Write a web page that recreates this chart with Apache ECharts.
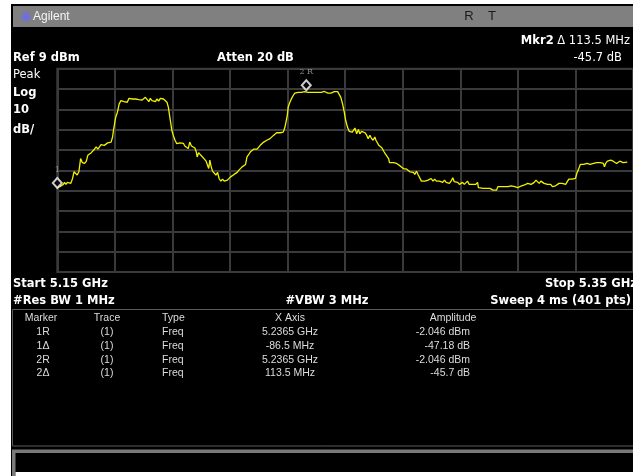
<!DOCTYPE html>
<html>
<head>
<meta charset="utf-8">
<script src="https://cdn.jsdelivr.net/npm/echarts@6/dist/echarts.min.js"></script>
<style>
  html, body { margin: 0; padding: 0; background: #fff; overflow: hidden; }
  #chart { width: 633px; height: 476px; }
</style>
</head>
<body>
<div id="chart"></div>
<script>
// analyzer settings
const START_MHZ = 5150;
const STOP_MHZ = 5350;
const REF_DBM = 9;

// trace 1 (MHz, dBm)
const freqMHz = [
  5150.0, 5150.9, 5151.5, 5152.1, 5152.5, 5153.0, 5153.5, 5154.1, 5154.7, 5155.3,
  5155.8, 5156.4, 5156.9, 5157.5, 5158.1, 5158.7, 5159.5, 5160.1, 5160.6, 5161.2,
  5161.8, 5162.3, 5162.9, 5163.5, 5164.1, 5164.6, 5165.2, 5165.8, 5166.3, 5166.9,
  5167.5, 5168.1, 5168.7, 5169.2, 5169.5, 5170.0, 5170.3, 5170.9, 5171.5, 5172.1,
  5172.6, 5173.2, 5173.8, 5174.3, 5174.9, 5175.5, 5176.1, 5176.6, 5177.2, 5177.8,
  5178.3, 5178.9, 5179.5, 5180.1, 5180.6, 5181.2, 5181.8, 5182.3, 5182.9, 5183.5,
  5184.1, 5184.6, 5185.2, 5185.8, 5186.3, 5186.9, 5187.5, 5188.1, 5188.6, 5189.0,
  5189.4, 5189.8, 5190.3, 5190.9, 5191.5, 5192.1, 5192.6, 5193.2, 5193.8, 5194.3,
  5194.9, 5195.5, 5196.0, 5196.6, 5197.2, 5197.8, 5198.3, 5198.6, 5199.1, 5199.9,
  5200.5, 5201.1, 5201.7, 5202.2, 5202.6, 5203.0, 5203.4, 5203.9, 5204.5, 5205.1,
  5205.7, 5206.2, 5206.8, 5207.4, 5208.0, 5208.5, 5209.1, 5209.7, 5210.2, 5210.8,
  5211.4, 5211.9, 5212.5, 5213.1, 5213.7, 5214.2, 5214.8, 5215.4, 5215.9, 5216.5,
  5217.1, 5217.7, 5218.2, 5218.8, 5219.4, 5219.9, 5220.5, 5221.1, 5221.7, 5222.2,
  5222.8, 5223.4, 5223.9, 5224.5, 5225.1, 5225.7, 5226.2, 5226.8, 5227.4, 5228.0,
  5228.5, 5229.1, 5229.4, 5229.9, 5230.2, 5230.8, 5231.4, 5231.9, 5232.5, 5233.1,
  5233.7, 5234.2, 5234.8, 5235.4, 5235.9, 5236.5, 5237.1, 5237.7, 5238.2, 5238.8,
  5239.4, 5240.0, 5240.5, 5241.1, 5241.7, 5242.2, 5242.8, 5243.4, 5244.0, 5244.5,
  5245.1, 5245.7, 5246.2, 5246.8, 5247.4, 5247.9, 5248.5, 5249.1, 5249.7, 5250.2,
  5250.8, 5251.4, 5252.0, 5252.5, 5253.1, 5253.4, 5254.0, 5254.6, 5255.1, 5255.7,
  5256.3, 5256.9, 5257.4, 5258.0, 5258.6, 5259.1, 5259.7, 5260.3, 5260.7, 5261.3,
  5261.7, 5262.2, 5262.8, 5263.4, 5263.9, 5264.5, 5265.1, 5265.4, 5266.0, 5266.8,
  5267.4, 5267.9, 5268.5, 5269.1, 5269.7, 5270.2, 5270.8, 5271.4, 5271.9, 5272.5,
  5273.1, 5273.7, 5274.2, 5274.8, 5275.4, 5275.9, 5276.5, 5277.1, 5277.7, 5278.2,
  5278.8, 5279.4, 5279.9, 5280.5, 5281.1, 5281.7, 5282.2, 5282.8, 5283.4, 5283.9,
  5284.5, 5285.1, 5285.7, 5286.2, 5286.8, 5287.4, 5287.9, 5288.5, 5289.1, 5289.7,
  5290.2, 5290.8, 5291.4, 5292.0, 5292.5, 5293.1, 5293.7, 5294.2, 5294.8, 5295.4,
  5296.0, 5296.3, 5296.9, 5298.0, 5299.1, 5300.3, 5300.9, 5301.4, 5302.0, 5302.6,
  5303.1, 5303.7, 5304.3, 5304.9, 5305.4, 5306.0, 5306.6, 5307.1, 5307.7, 5308.3,
  5308.9, 5309.4, 5310.0, 5310.6, 5311.1, 5311.7, 5312.3, 5312.9, 5313.4, 5314.0,
  5314.6, 5315.1, 5315.7, 5316.3, 5316.9, 5317.4, 5318.0, 5318.6, 5319.1, 5319.7,
  5320.3, 5320.9, 5321.4, 5322.0, 5322.6, 5323.1, 5323.7, 5324.3, 5324.9, 5325.4,
  5326.0, 5326.6, 5327.1, 5327.7, 5328.3, 5328.9, 5329.4, 5330.0, 5330.6, 5331.1,
  5331.7, 5332.3, 5332.9, 5333.4, 5334.0, 5334.6, 5335.1, 5335.7, 5336.3, 5336.9,
  5337.4, 5338.0, 5338.6, 5339.1, 5339.7, 5340.1, 5340.5, 5341.1, 5341.6, 5342.3,
  5343.1, 5343.7, 5344.3, 5344.9, 5345.4, 5346.0, 5346.6, 5347.1, 5348.0
];
const levelDbm = [
  -49.2, -49.0, -48.2, -47.9, -46.9, -47.9, -46.9, -47.4, -47.4, -45.0,
  -41.7, -41.4, -43.3, -41.7, -35.2, -37.2, -37.6, -36.5, -33.6, -34.4,
  -32.3, -32.9, -30.6, -29.5, -30.6, -31.1, -28.4, -27.9, -28.7, -29.0,
  -27.5, -28.2, -27.1, -24.6, -21.4, -17.3, -14.8, -12.4, -8.3, -6.7,
  -6.2, -7.2, -7.5, -7.5, -5.6, -5.4, -5.9, -5.6, -5.9, -5.6,
  -6.2, -5.9, -6.4, -6.7, -5.1, -5.9, -7.2, -5.6, -6.7, -6.2,
  -7.2, -5.9, -6.9, -5.6, -5.6, -5.9, -6.2, -7.5, -10.0, -14.0,
  -14.8, -21.4, -23.8, -26.2, -27.9, -27.9, -27.5, -27.5, -27.7, -29.0,
  -28.4, -30.3, -27.1, -29.0, -28.7, -30.0, -32.0, -34.4, -32.3, -33.6,
  -34.4, -35.5, -36.5, -37.2, -40.1, -36.0, -38.8, -41.4, -41.7, -43.3,
  -42.0, -45.0, -46.3, -45.3, -46.3, -46.6, -45.8, -45.3, -44.2, -44.6,
  -43.0, -43.7, -42.0, -40.9, -41.4, -39.3, -38.8, -38.1, -34.4, -33.2,
  -31.9, -31.6, -30.6, -31.1, -30.6, -30.0, -28.7, -27.9, -27.1, -26.7,
  -26.2, -26.2, -25.4, -24.6, -23.8, -23.5, -22.5, -22.2, -22.5, -23.0,
  -22.2, -19.7, -18.9, -14.0, -10.0, -7.5, -5.6, -4.3, -3.0, -2.6,
  -2.6, -2.3, -2.6, -2.2, -2.3, -2.05, -2.6, -2.2, -2.6, -3.0,
  -2.6, -2.3, -2.6, -3.0, -2.6, -2.6, -2.2, -3.0, -3.0, -2.6,
  -3.0, -2.6, -2.3, -2.2, -2.3, -2.6, -5.1, -8.3, -12.4, -16.5,
  -19.7, -21.8, -21.8, -22.2, -21.8, -20.2, -23.0, -20.9, -23.0, -21.8,
  -20.9, -22.5, -23.5, -25.4, -23.8, -25.1, -26.2, -24.6, -26.2, -27.1,
  -28.7, -27.9, -30.0, -31.6, -32.8, -33.6, -35.2, -37.2, -36.5, -37.2,
  -36.5, -37.6, -38.5, -38.8, -39.3, -40.1, -39.8, -40.4, -40.9, -41.7,
  -42.5, -42.0, -43.0, -41.4, -43.3, -44.2, -46.3, -46.9, -46.3, -46.3,
  -45.8, -45.3, -45.0, -46.3, -45.3, -46.3, -46.9, -46.3, -45.8, -46.9,
  -45.8, -46.9, -46.6, -47.4, -46.3, -44.6, -46.6, -47.4, -46.9, -47.9,
  -47.4, -46.9, -47.9, -47.4, -46.3, -47.9, -47.6, -47.9, -47.4, -47.9,
  -46.9, -49.5, -50.2, -49.9, -49.9, -49.9, -50.2, -50.7, -50.7, -50.7,
  -49.0, -48.6, -49.0, -48.6, -49.0, -48.6, -49.0, -49.0, -48.6, -49.0,
  -49.0, -48.6, -49.5, -48.6, -48.7, -48.7, -48.2, -48.2, -47.4, -47.9,
  -47.9, -47.4, -46.9, -45.8, -46.6, -47.4, -46.3, -46.9, -47.4, -46.9,
  -47.9, -48.2, -47.9, -49.0, -48.2, -48.6, -47.9, -47.4, -47.4, -47.4,
  -47.4, -47.9, -47.4, -45.3, -45.8, -45.3, -45.8, -45.0, -42.0, -40.4,
  -38.1, -37.2, -38.1, -37.2, -37.6, -36.8, -38.1, -37.2, -37.6, -37.6,
  -37.2, -37.6, -37.2, -36.5, -37.6, -39.3, -37.6, -36.5, -36.0, -36.0,
  -36.5, -37.2, -37.6, -36.8, -36.5, -37.2, -37.2, -37.2, -37.0
];

// markers shown on screen
const markerNames = ['1', '2 R'];
const markerFreq = [5150.0, 5236.5];
const markerLevel = [-49.23, -2.046];

// marker table
const tableHead = ['Marker', 'Trace', 'Type', 'X Axis', 'Amplitude'];
const tMarker = ['1R', '1\u0394', '2R', '2\u0394'];
const tTrace = ['(1)', '(1)', '(1)', '(1)'];
const tType = ['Freq', 'Freq', 'Freq', 'Freq'];
const tXAxis = ['5.2365 GHz', '-86.5 MHz', '5.2365 GHz', '113.5 MHz'];
const tAmp = ['-2.046 dBm', '-47.18 dB', '-2.046 dBm', '-45.7 dB'];

const FONT = '"DejaVu Sans", sans-serif';
const TFONT = '"Liberation Sans", Arial, sans-serif';

function txt(x, y, s, size, bold, color, align, family) {
  return {
    type: 'text', x: x, y: y, z: 10,
    style: {
      text: s, fill: color || '#fff',
      font: (bold ? 'bold ' : '') + size + 'px ' + (family || FONT),
      textAlign: align || 'left', textVerticalAlign: 'middle'
    }
  };
}

const gfx = [
  { type: 'rect', z: -100, shape: { x: 11, y: 4, width: 622, height: 472 }, style: { fill: '#000' } },
  // title bar
  { type: 'rect', z: -50, shape: { x: 13, y: 6, width: 620, height: 21 }, style: { fill: '#808080' } },
  txt(33, 16.5, 'Agilent', 12, false, '#f4f4f4', 'left', TFONT),
  txt(469, 16.5, 'R', 13, false, '#1a1a1a', 'center', TFONT),
  txt(492, 16.5, 'T', 13, false, '#1a1a1a', 'center', TFONT),
  {
    type: 'text', x: 630, y: 41, z: 10,
    style: {
      text: '{b|Mkr2} \u0394 113.5 MHz', fill: '#fff', font: '11.5px ' + FONT,
      textAlign: 'right', textVerticalAlign: 'middle',
      rich: { b: { font: 'bold 11.5px ' + FONT, fill: '#fff' } }
    }
  },
  txt(13, 58, 'Ref 9 dBm', 11.5, true),
  txt(217, 58, 'Atten 20 dB', 11.5, true),
  txt(622, 58, '-45.7 dB', 11.5, false, '#fff', 'right'),
  txt(13, 75, 'Peak', 11.5, false),
  txt(13, 93, 'Log', 11.5, true),
  txt(13, 110, '10', 11.5, true),
  txt(13, 130, 'dB/', 11.5, true),
  txt(13, 284, 'Start 5.15 GHz', 11.5, true),
  txt(637, 284, 'Stop 5.35 GHz', 11.5, true, '#fff', 'right'),
  txt(13, 301, '#Res BW 1 MHz', 11.5, true),
  txt(327, 301, '#VBW 3 MHz', 11.5, true, '#fff', 'center'),
  txt(631, 301, 'Sweep 4 ms (401 pts)', 11.5, true, '#fff', 'right'),
  // marker table frame
  { type: 'rect', z: -40, shape: { x: 12.5, y: 309.5, width: 640, height: 136.5 }, style: { fill: 'none', stroke: '#5a5a5a', lineWidth: 1 } },
  // command line box at the bottom
  { type: 'rect', z: -40, shape: { x: 12, y: 449.5, width: 621, height: 3.5 }, style: { fill: '#7a7a7a' } },
  { type: 'rect', z: -40, shape: { x: 12, y: 452, width: 3.5, height: 24 }, style: { fill: '#7a7a7a' } },
  { type: 'rect', z: -40, shape: { x: 15.5, y: 472, width: 618, height: 4 }, style: { fill: '#fff' } }
];

// star logo
for (let i = 0; i < 4; i++) {
  const a = i * Math.PI / 4;
  gfx.push({
    type: 'line', z: 5,
    shape: { x1: 26 - 5.5 * Math.cos(a), y1: 16.5 - 5.5 * Math.sin(a), x2: 26 + 5.5 * Math.cos(a), y2: 16.5 + 5.5 * Math.sin(a) },
    style: { stroke: '#6a6aff', lineWidth: 1.2 }
  });
}

// table rows
const colX = [43, 107, 162, 290, 470];
const colAlign = ['center', 'center', 'left', 'center', 'right'];
const headX = [41, 107, 162, 290, 453];
const headAlign = ['center', 'center', 'left', 'center', 'center'];
tableHead.forEach((h, i) => gfx.push(txt(headX[i], 318, h, 10.5, false, '#dcdcdc', headAlign[i], TFONT)));
const rowY = [332.5, 346.5, 360, 373.5];
tMarker.forEach((m, r) => {
  const cells = [m, tTrace[r], tType[r], tXAxis[r], tAmp[r]];
  cells.forEach((c, i) => gfx.push(txt(colX[i], rowY[r], c, 10.5, false, '#dcdcdc', colAlign[i], TFONT)));
});

const traceData = freqMHz.map((f, i) => [f - START_MHZ, levelDbm[i] - REF_DBM]);
const markerData = markerFreq.map((f, i) => ({
  value: [f - START_MHZ, markerLevel[i] - REF_DBM],
  name: markerNames[i],
  symbolOffset: [0, i === 0 ? -4 : -6]
}));

const chart = echarts.init(document.getElementById('chart'));
chart.setOption({
  animation: false,
  backgroundColor: '#fff',
  grid: {
    left: 57.3, top: 68.7, width: 584.4, height: 203.3,
    show: true, borderColor: '#3a3a3a', borderWidth: 2
  },
  xAxis: {
    type: 'value', min: 0, max: STOP_MHZ - START_MHZ, interval: 20,
    axisLine: { show: false }, axisTick: { show: false }, axisLabel: { show: false },
    splitLine: { show: true, lineStyle: { color: '#3a3a3a', width: 2 } }
  },
  yAxis: {
    type: 'value', min: -100, max: 0, interval: 10,
    axisLine: { show: false }, axisTick: { show: false }, axisLabel: { show: false },
    splitLine: { show: true, lineStyle: { color: '#3a3a3a', width: 2 } }
  },
  series: [
    {
      type: 'line', data: traceData, showSymbol: false, clip: true,
      lineStyle: { color: '#f2f200', width: 1.3 }
    },
    {
      type: 'scatter', data: markerData, symbol: 'diamond', symbolSize: [9, 10], z: 5,
      itemStyle: { color: '#000', borderColor: '#fff', borderWidth: 2 },
      label: {
        show: true, position: 'top', distance: 3,
        formatter: p => p.name, color: '#aaa', fontSize: 8, fontFamily: '"DejaVu Serif", serif'
      }
    }
  ],
  graphic: { elements: gfx }
});
</script>
</body>
</html>
